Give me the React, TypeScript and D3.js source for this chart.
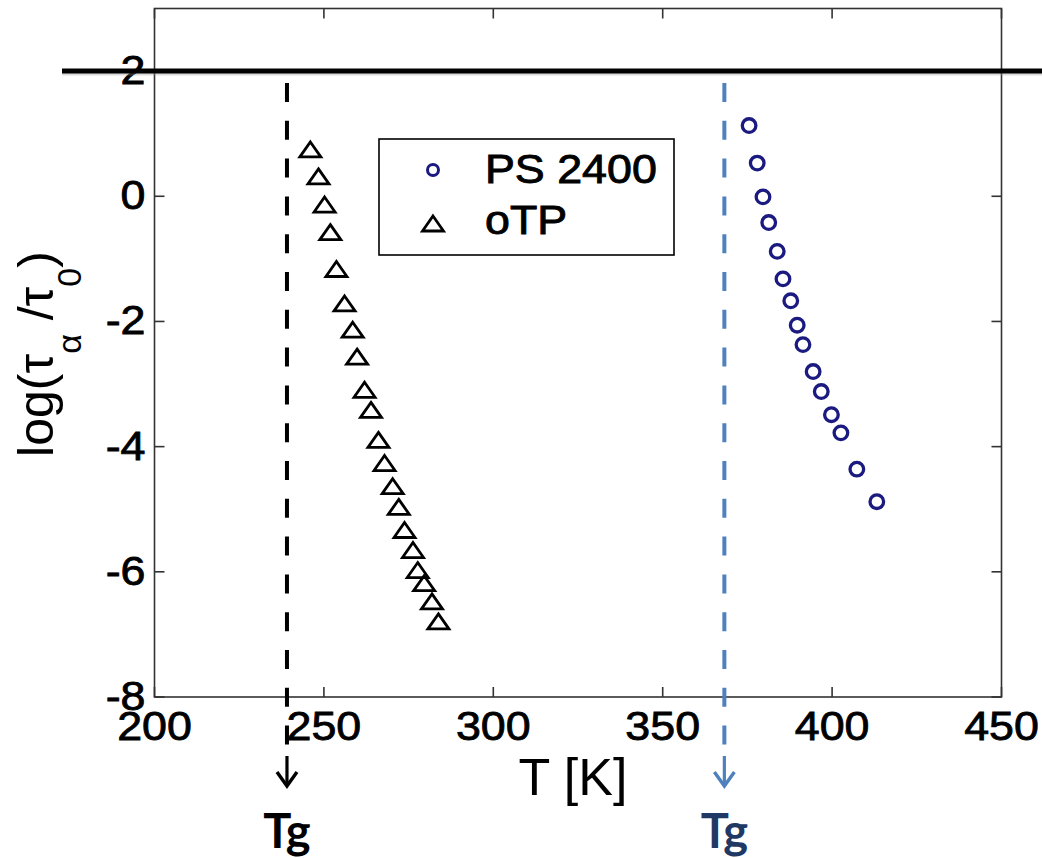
import React from 'react';
import * as d3 from 'd3';

// ---- data ----
const psT = [375.5, 377.9, 379.6, 381.3, 383.8, 385.5, 387.8, 389.7, 391.4, 394.4, 396.8, 399.8, 402.6, 407.3, 413.2];
const psLogTau = [1.13, 0.53, -0.01, -0.42, -0.88, -1.32, -1.67, -2.06, -2.37, -2.8, -3.12, -3.49, -3.78, -4.36, -4.88];
const otpT = [246.0, 248.4, 250.2, 251.9, 253.7, 256.1, 258.5, 259.8, 262.0, 263.9, 266.1, 267.9, 270.3, 272.1, 273.8, 276.3, 277.7, 279.6, 281.9, 283.8];
const otpLogTau = [0.74, 0.31, -0.14, -0.58, -1.17, -1.72, -2.14, -2.57, -3.1, -3.42, -3.9, -4.27, -4.64, -4.97, -5.34, -5.66, -5.98, -6.19, -6.48, -6.8];
const xTicks = [200, 250, 300, 350, 400, 450];
const yTicks = [2, 0, -2, -4, -6, -8];
const seriesNames = ['PS 2400', 'oTP'];
const tgValues = [239.1, 368.2];
const tgColors = ['#000000', '#4f81bd'];
const tgTextColors = ['#000000', '#1f3864'];
const refLevel = 2;

const W = 1042;
const H = 858;
const M = { left: 154.5, right: 1001.5, top: 8.5, bottom: 697 };
const circleColor = '#1a1a80';
const axisColor = '#333333';
const tickFont = '"Liberation Sans", Arial, sans-serif';

function triPath(cx: number, cy: number) {
  const p = d3.path();
  p.moveTo(cx, cy - 8);
  p.lineTo(cx + 10.5, cy + 7);
  p.lineTo(cx - 10.5, cy + 7);
  p.closePath();
  return p.toString();
}

export default function App() {
  const x = d3.scaleLinear().domain([200, 450]).range([M.left, M.right]);
  const y = d3.scaleLinear().domain([3, -8]).range([M.top, M.bottom]);
  const tickLen = 10;
  const stretch = 'scale(1.12,1)';

  const ps = psT.map((t, i) => ({ t, v: psLogTau[i] }));
  const otp = otpT.map((t, i) => ({ t, v: otpLogTau[i] }));

  return (
    <svg width={W} height={H} style={{ position: 'absolute', left: 0, top: 0, background: '#fff' }}>
      <rect x={0} y={0} width={W} height={H} fill="#fff" />
      {/* frame */}
      <rect x={M.left} y={M.top} width={M.right - M.left} height={M.bottom - M.top} fill="none" stroke={axisColor} strokeWidth={1.6} />
      {/* x ticks bottom & top */}
      {xTicks.map((t) => (
        <g key={'xt' + t}>
          <line x1={x(t)} x2={x(t)} y1={M.bottom} y2={M.bottom - tickLen} stroke={axisColor} strokeWidth={1.6} />
          <line x1={x(t)} x2={x(t)} y1={M.top} y2={M.top + tickLen} stroke={axisColor} strokeWidth={1.6} />
          <text transform={`translate(${x(t)},${M.bottom + 43}) ${stretch}`} textAnchor="middle" fontFamily={tickFont} fontSize={40} fill="#000" stroke="#000" strokeWidth={0.8}>
            {t}
          </text>
        </g>
      ))}
      {/* y ticks left & right */}
      {yTicks.map((t) => (
        <g key={'yt' + t}>
          <line x1={M.left} x2={M.left + tickLen} y1={y(t)} y2={y(t)} stroke={axisColor} strokeWidth={1.6} />
          <line x1={M.right} x2={M.right - tickLen} y1={y(t)} y2={y(t)} stroke={axisColor} strokeWidth={1.6} />
          <text transform={`translate(${M.left - 9},${y(t) + 13}) ${stretch}`} textAnchor="end" fontFamily={tickFont} fontSize={40} fill="#000" stroke="#000" strokeWidth={0.8}>
            {t}
          </text>
        </g>
      ))}
      {/* axis labels */}
      <text x={(M.left + M.right) / 2 - 5} y={795} textAnchor="middle" fontFamily={tickFont} fontSize={52} fill="#000">
        T [K]
      </text>
      <text transform={`translate(53,354) rotate(-90)`} textAnchor="middle" fontFamily={tickFont} fontSize={50} fill="#000">
        <tspan>log(τ</tspan>
        <tspan fontSize={34} dy={28}>α</tspan>
        <tspan dy={-28}> /τ</tspan>
        <tspan fontSize={34} dy={28}>0</tspan>
        <tspan dy={-28}>)</tspan>
      </text>

      {/* reference line at log = 2 */}
      <line x1={62} x2={W} y1={y(refLevel) + 3} y2={y(refLevel) + 3} stroke="#999" strokeOpacity={0.35} strokeWidth={3} />
      <line x1={62} x2={W} y1={y(refLevel)} y2={y(refLevel)} stroke="#000" strokeWidth={5} />

      {/* Tg dashed lines with arrows */}
      {tgValues.map((tg, i) => {
        const cx = x(tg);
        const c = tgColors[i];
        return (
          <g key={'tg' + i}>
            <line x1={cx} x2={cx} y1={83} y2={746} stroke={c} strokeWidth={4} strokeDasharray="19 18.8" />
            <line x1={cx} x2={cx} y1={756} y2={785} stroke={c} strokeWidth={3.2} />
            <polyline points={`${cx - 10},${772} ${cx},${786} ${cx + 10},${772}`} fill="none" stroke={c} strokeWidth={3.4} strokeLinejoin="miter" />
            <text x={cx} y={848} textAnchor="middle" fontFamily="Lato, 'Open Sans', sans-serif" fontWeight={700} fontSize={47} fill={tgTextColors[i]}>
              Tg
            </text>
          </g>
        );
      })}

      {/* oTP triangles */}
      {otp.map((d, i) => (
        <path key={'o' + i} d={triPath(x(d.t), y(d.v))} fill="none" stroke="#000" strokeWidth={2.8} strokeLinejoin="miter" />
      ))}
      {/* PS 2400 circles */}
      {ps.map((d, i) => (
        <circle key={'p' + i} cx={x(d.t)} cy={y(d.v)} r={6.8} fill="none" stroke={circleColor} strokeWidth={3.3} />
      ))}

      {/* legend */}
      <rect x={379} y={139} width={295} height={116} fill="#fff" stroke="#000" strokeWidth={1.6} />
      <circle cx={433} cy={170} r={5.5} fill="none" stroke={circleColor} strokeWidth={3} />
      <path d={triPath(433, 224)} fill="none" stroke="#000" strokeWidth={2.8} />
      <text transform={`translate(485,183) ${stretch}`} fontFamily={tickFont} fontSize={40} fill="#000" stroke="#000" strokeWidth={0.9}>
        {seriesNames[0]}
      </text>
      <text transform={`translate(485,234) ${stretch}`} fontFamily={tickFont} fontSize={40} fill="#000" stroke="#000" strokeWidth={0.9}>
        {seriesNames[1]}
      </text>
    </svg>
  );
}
